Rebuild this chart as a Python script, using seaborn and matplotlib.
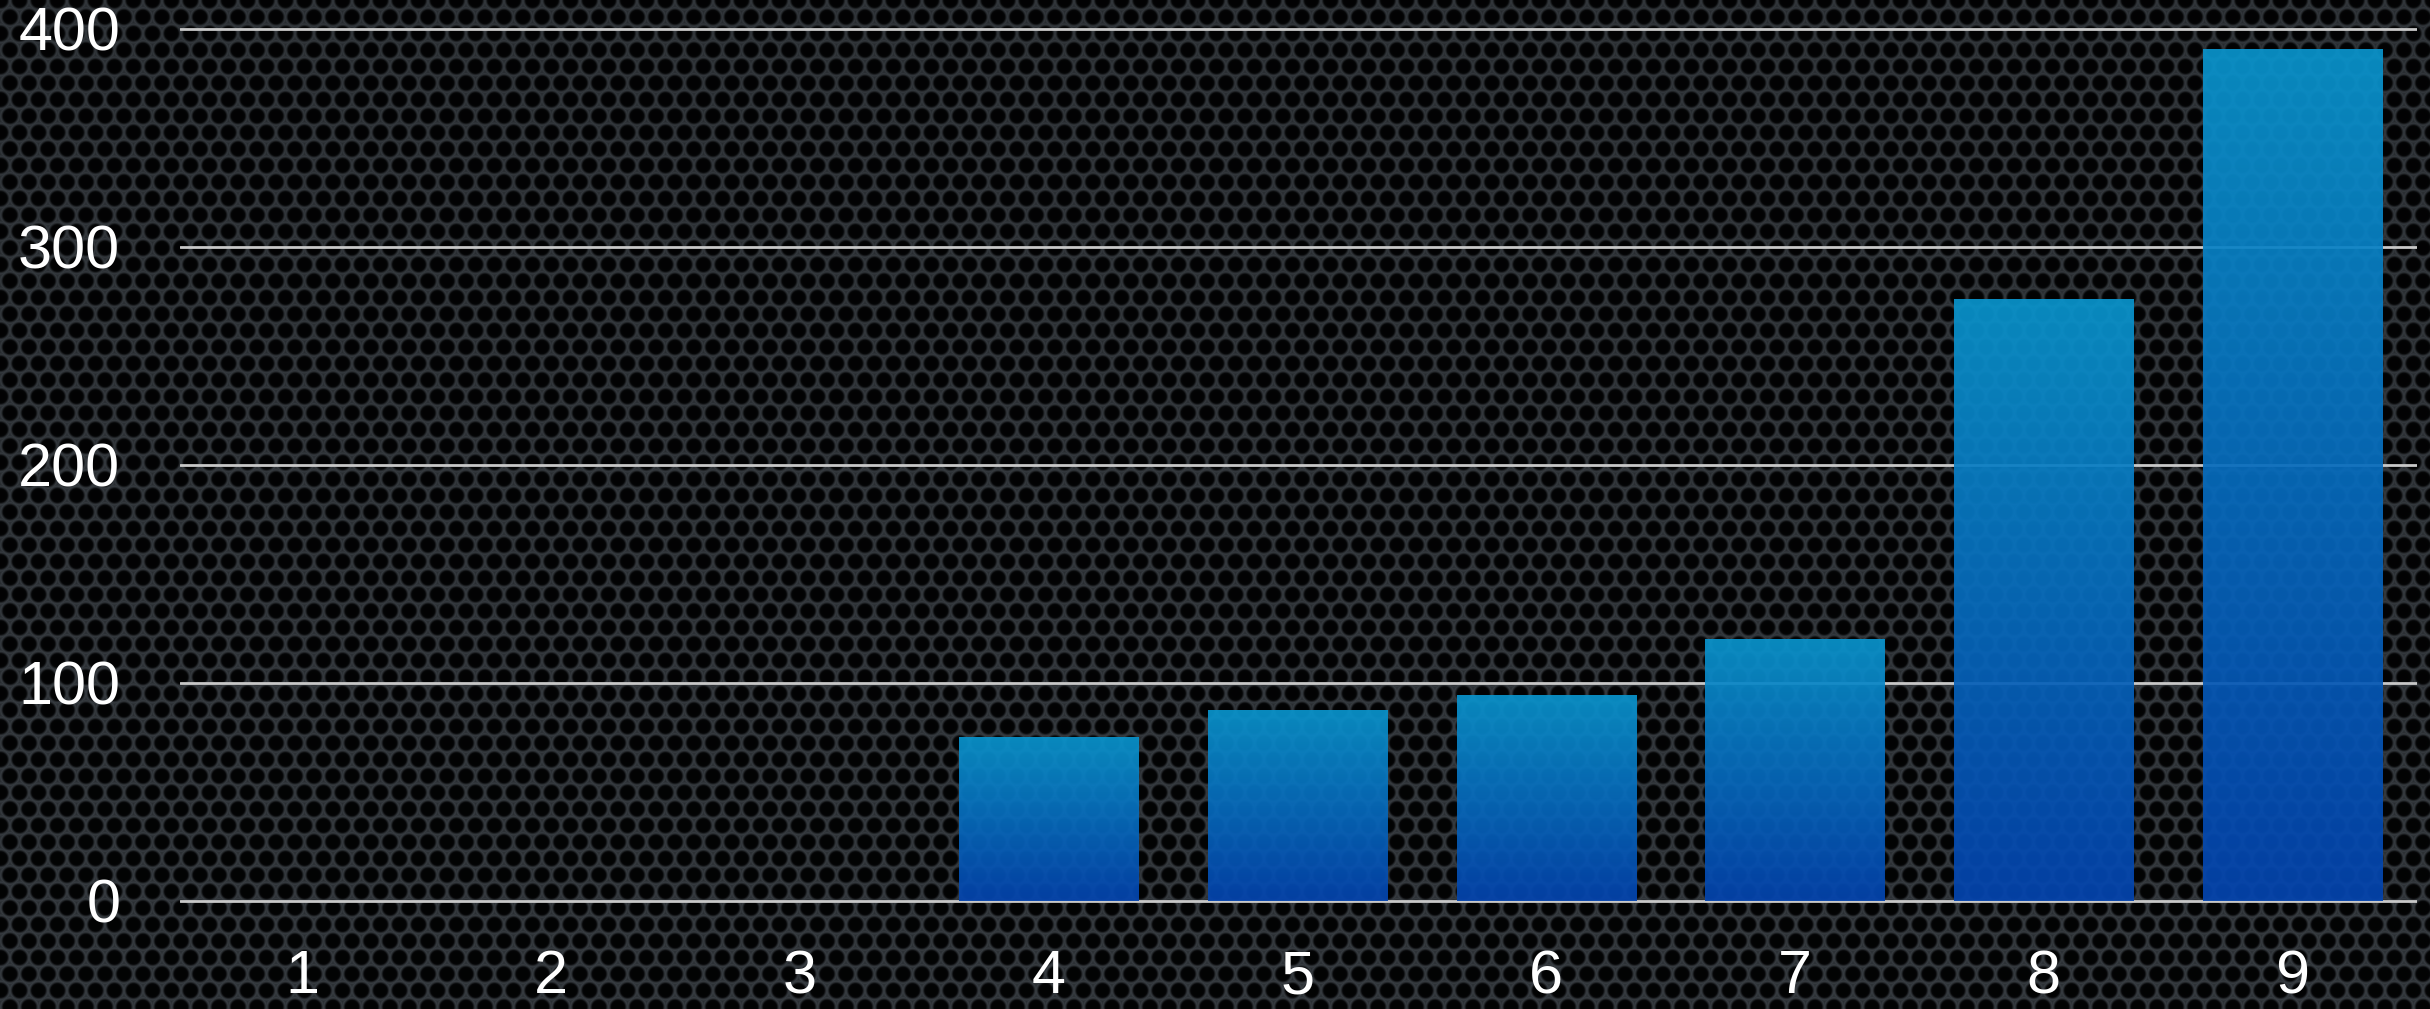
import numpy as np
import pandas as pd
import matplotlib
matplotlib.use("Agg")
import matplotlib.pyplot as plt
import seaborn as sns
from matplotlib.colors import LinearSegmentedColormap

# ---- data ----
categories = ["1", "2", "3", "4", "5", "6", "7", "8", "9"]
values = [0, 0, 0, 75, 87.5, 94.5, 120, 276, 391]
y_ticks = [0, 100, 200, 300, 400]

W, H, DPI = 2430, 1009, 100

sns.set_theme(style="dark")
plt.rcParams["font.family"] = ["Liberation Sans", "DejaVu Sans"]

fig = plt.figure(figsize=(W / DPI, H / DPI), dpi=DPI)
fig.patch.set_facecolor("#1c1f22")

# ---- perforated metal texture (decorative background) ----
yy, xx = np.mgrid[0:H, 0:W].astype(float)
dx, dy = 19.0, 16.5
row = np.floor(yy / dy + 0.5)
best = None
for dr in (-1, 0, 1):
    r2 = row + dr
    cy2 = r2 * dy
    off2 = (r2 % 2) * dx / 2
    cx2 = np.round((xx - off2) / dx) * dx + off2
    dd = np.hypot(xx - cx2, yy - cy2)
    best = dd if best is None else np.minimum(best, dd)
r = 6.8
t = np.clip((best - r) / 2.5, 0, 1)
rim = np.exp(-((best - r - 2.0) ** 2) / 3.0)
base = np.array([0.15, 0.165, 0.18])
hole = np.array([0.01, 0.012, 0.015])
img = hole[None, None, :] * (1 - t[..., None]) + base[None, None, :] * t[..., None]
img = img + rim[..., None] * np.array([0.07, 0.075, 0.08])
img = img * (0.92 + 0.08 * (yy / H))[..., None]
img = np.clip(img, 0, 1)
bg = fig.add_axes([0, 0, 1, 1], zorder=-10)
bg.imshow(img, aspect="auto", interpolation="bilinear")
bg.set_axis_off()

# ---- main axes ----
ax = fig.add_axes([180 / W, 101.5 / H, (2417 - 180) / W, 0.8772])
ax.set_facecolor("none")

df = pd.DataFrame({"cat": categories, "val": values})
sns.barplot(data=df, x="cat", y="val", ax=ax, width=0.72,
            color="#0a8fca", saturation=1, zorder=3)

cmap = LinearSegmentedColormap.from_list("bargrad", ["#0444ae", "#0a94cc"])
grad = np.linspace(0, 1, 256).reshape(-1, 1)
for p in ax.patches:
    h = p.get_height()
    if h <= 0:
        p.set_visible(False)
        continue
    x0 = p.get_x()
    w = p.get_width()
    im = ax.imshow(grad, cmap=cmap, origin="lower", aspect="auto",
                   extent=[x0, x0 + w, 0, h], zorder=3, alpha=0.93)
    im.set_clip_path(p)
    p.set_facecolor("none")
    p.set_edgecolor("none")

ax.set_xlim(-0.49, 8.5)
ax.set_ylim(-3, 403)
ax.set_yticks(y_ticks)
ax.set_yticklabels([str(v) for v in y_ticks])
ax.grid(axis="y", color="#c8c8c8", linewidth=2.0, zorder=1)
ax.grid(axis="x", visible=False)
ax.set_axisbelow(True)
for s in ax.spines.values():
    s.set_visible(False)
ax.set_xlabel("")
ax.set_ylabel("")
ax.tick_params(axis="both", length=0, colors="white", labelsize=44)
ax.tick_params(axis="y", pad=43)
ax.tick_params(axis="x", pad=30)
for lab in ax.get_xticklabels() + ax.get_yticklabels():
    lab.set_fontweight("normal")
    lab.set_color("white")

fig.savefig("out.png", dpi=DPI, facecolor=fig.get_facecolor())
